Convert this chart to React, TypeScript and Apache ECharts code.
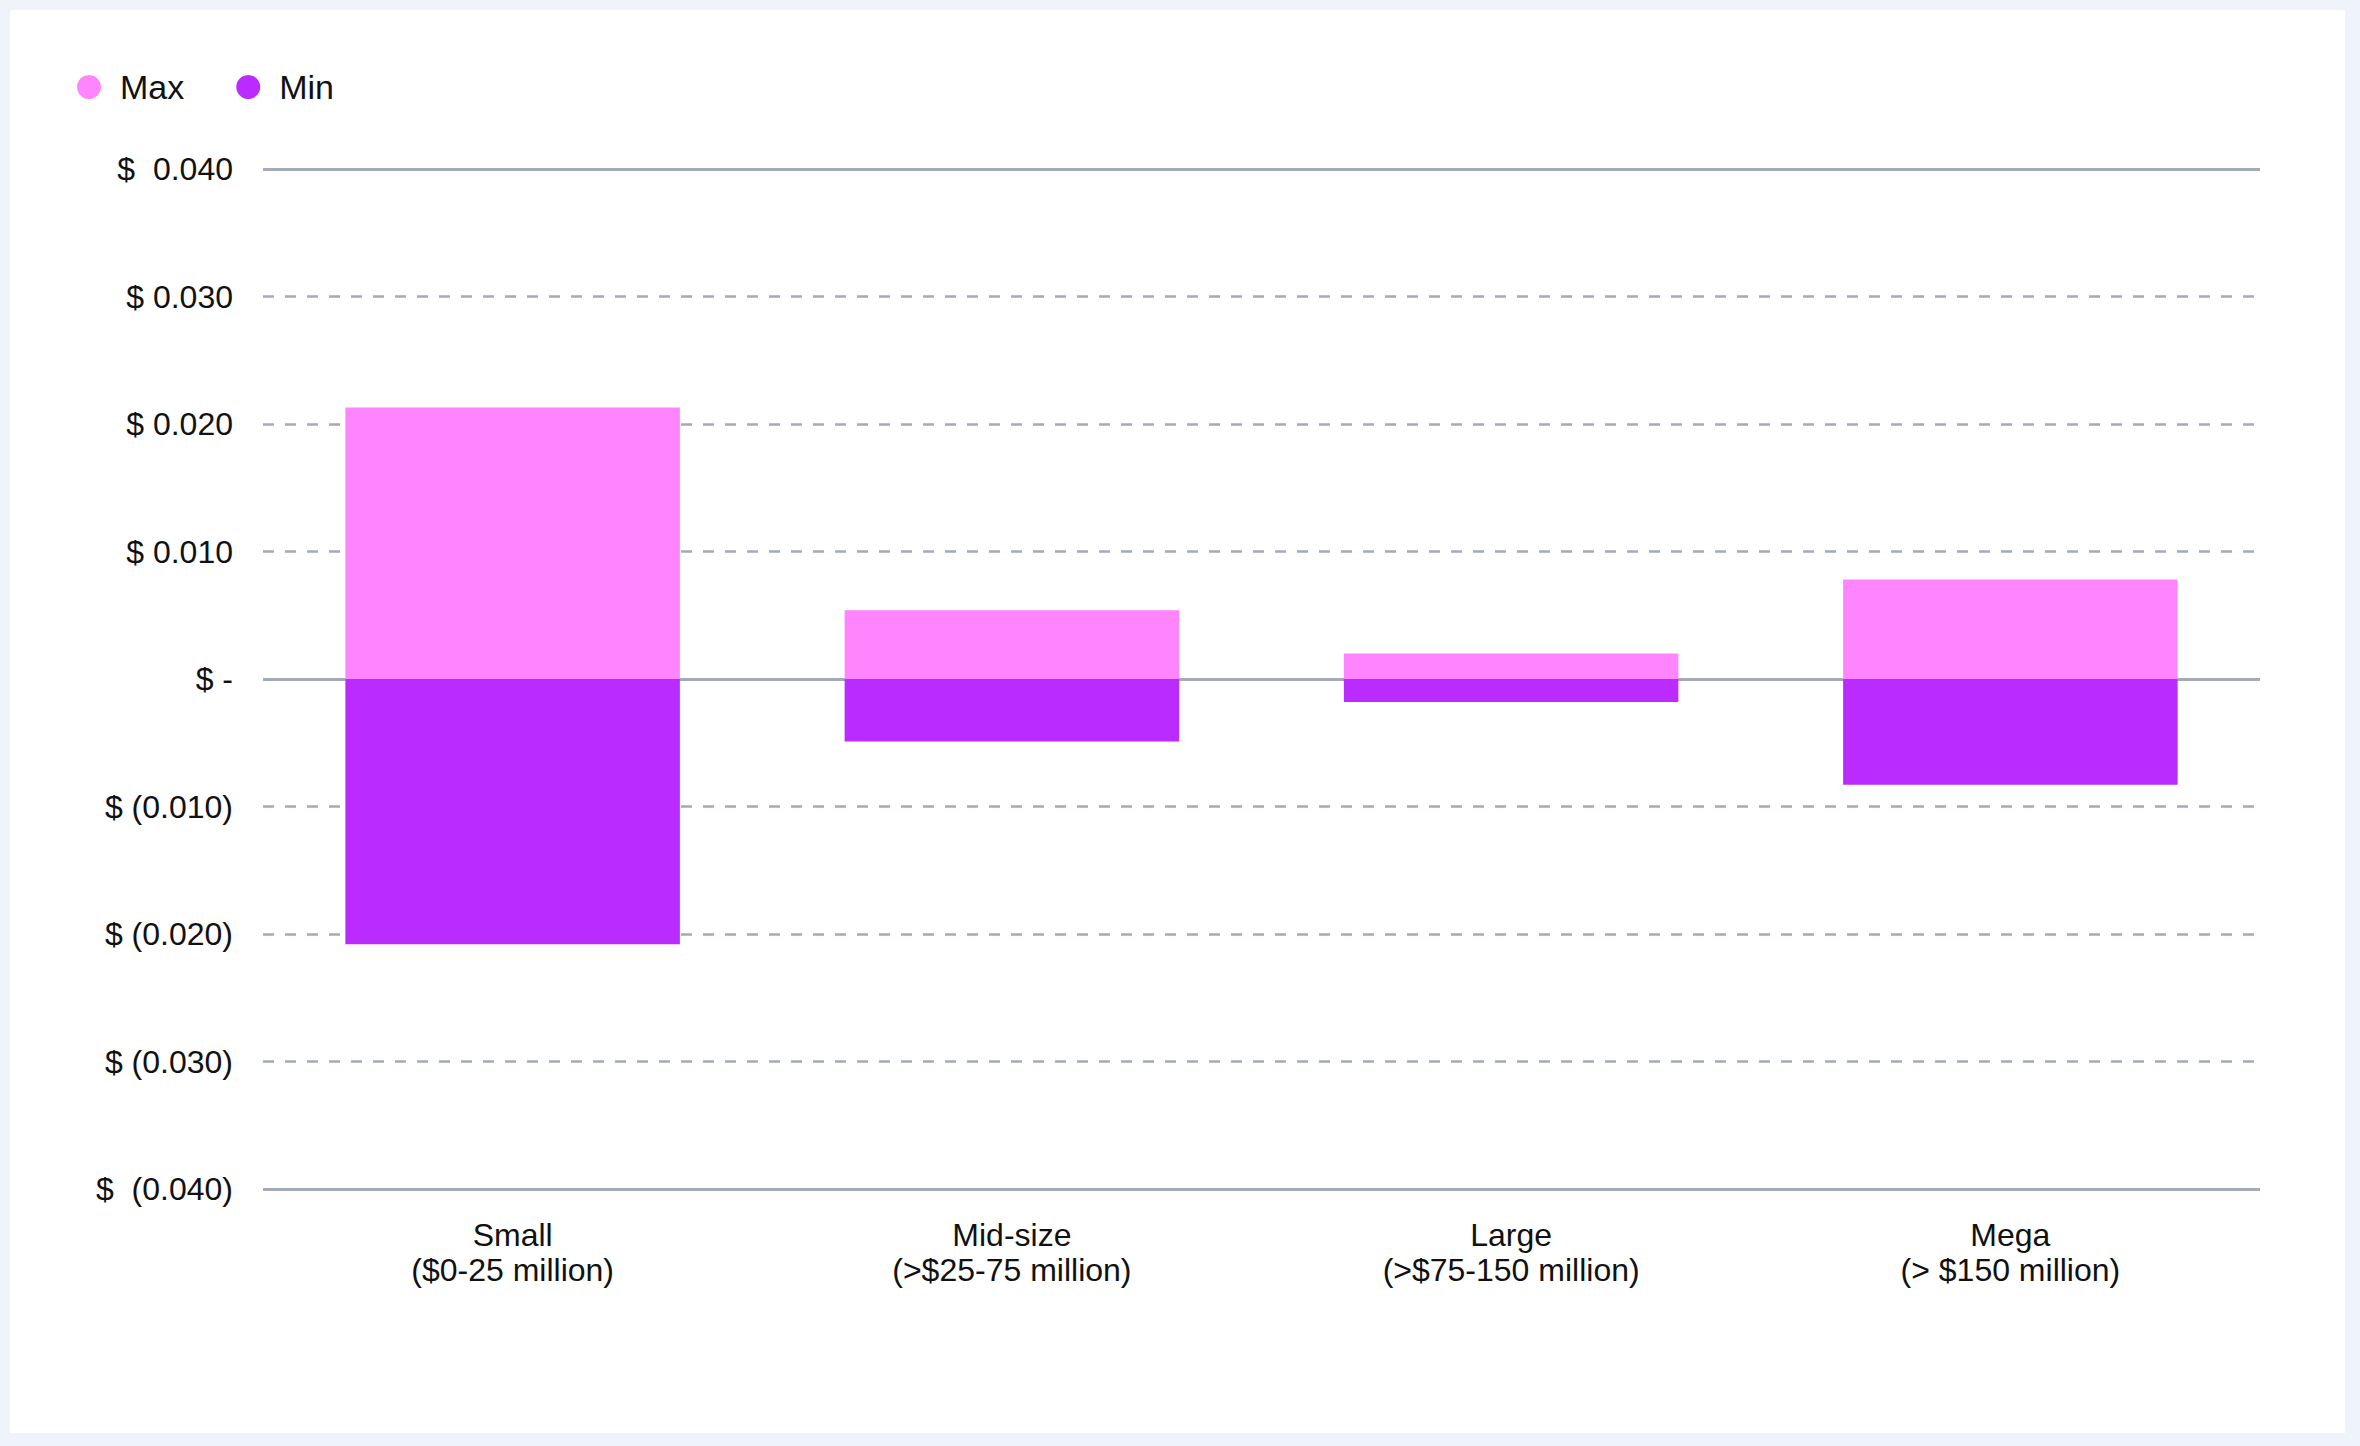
import { useEffect, useRef } from 'react'
import * as echarts from 'echarts'

// Size categories along the x axis
const categories = [
  'Small\n($0-25 million)',
  'Mid-size\n(>$25-75 million)',
  'Large\n(>$75-150 million)',
  'Mega\n(> $150 million)',
]

// Per-category range, $ per unit
const maxValues = [0.0213, 0.0054, 0.002, 0.0078]
const minValues = [-0.0208, -0.0049, -0.0018, -0.0083]

// Y axis ticks and how they are printed
const yTickValues = [-0.04, -0.03, -0.02, -0.01, 0, 0.01, 0.02, 0.03, 0.04]
const yTickLabels = [
  '$  (0.040)',
  '$ (0.030)',
  '$ (0.020)',
  '$ (0.010)',
  '$ -',
  '$ 0.010',
  '$ 0.020',
  '$ 0.030',
  '$  0.040',
]

// Solid rules drawn across the plot (top, zero, bottom)
const solidRules = [0.04, 0, -0.04]

const MAX_COLOR = '#FF85FF'
const MIN_COLOR = '#B92BFF'
const RULE_COLOR = '#A3AAB9'
const TEXT_COLOR = '#111111'
const FONT = '"Liberation Sans", Arial, Helvetica, sans-serif'

function tickLabel(v: number) {
  const i = yTickValues.findIndex((t) => Math.abs(t - v) < 1e-9)
  return i >= 0 ? yTickLabels[i] : ''
}

export default function App() {
  const chartEl = useRef<HTMLDivElement>(null)

  useEffect(() => {
    document.body.style.margin = '0'
    if (!chartEl.current) return
    const chart = echarts.init(chartEl.current, null, { renderer: 'svg' })

    chart.setOption({
      animation: false,
      textStyle: { fontFamily: FONT },
      legend: {
        data: ['Max', 'Min'],
        left: 77,
        top: 70,
        padding: 0,
        icon: 'circle',
        itemWidth: 24,
        itemHeight: 24,
        itemGap: 52,
        selectedMode: false,
        textStyle: {
          fontSize: 34,
          color: TEXT_COLOR,
          fontFamily: FONT,
          padding: [0, 0, 0, 14],
        },
      },
      grid: {
        left: 263,
        right: 100,
        top: 169,
        bottom: 257,
        containLabel: false,
      },
      xAxis: {
        type: 'category',
        data: categories,
        axisLine: { show: false },
        axisTick: { show: false },
        axisLabel: {
          interval: 0,
          fontSize: 32,
          lineHeight: 35,
          color: TEXT_COLOR,
          fontFamily: FONT,
          margin: 28,
        },
      },
      yAxis: {
        type: 'value',
        min: -0.04,
        max: 0.04,
        interval: 0.01,
        axisLine: { show: false },
        axisTick: { show: false },
        axisLabel: {
          fontSize: 32,
          color: TEXT_COLOR,
          fontFamily: FONT,
          margin: 30,
          formatter: tickLabel,
        },
        splitLine: {
          show: true,
          lineStyle: { color: RULE_COLOR, width: 2.5, type: [11, 11] },
        },
      },
      series: [
        {
          // carries only the solid rules, kept beneath the bars
          name: 'rules',
          type: 'line',
          data: categories.map(() => null),
          z: 1,
          silent: true,
          symbol: 'none',
          markLine: {
            silent: true,
            z: 1,
            symbol: ['none', 'none'],
            label: { show: false },
            lineStyle: { color: RULE_COLOR, width: 3, type: 'solid' },
            data: solidRules.map((v) => ({ yAxis: v })),
          },
        },
        {
          name: 'Max',
          type: 'bar',
          stack: 'range',
          data: maxValues,
          barWidth: '67%',
          itemStyle: { color: MAX_COLOR },
          z: 3,
        },
        {
          name: 'Min',
          type: 'bar',
          stack: 'range',
          data: minValues,
          barWidth: '67%',
          itemStyle: { color: MIN_COLOR },
          z: 3,
        },
      ],
    })

    return () => {
      chart.dispose()
    }
  }, [])

  return (
    <div style={{ position: 'relative', width: 2360, height: 1446, background: '#EEF4FA' }}>
      <div
        style={{
          position: 'absolute',
          left: 10,
          top: 10,
          width: 2335,
          height: 1423,
          background: '#FFFFFF',
        }}
      />
      <div
        ref={chartEl}
        style={{ position: 'absolute', left: 0, top: 0, width: 2360, height: 1446 }}
      />
    </div>
  )
}
